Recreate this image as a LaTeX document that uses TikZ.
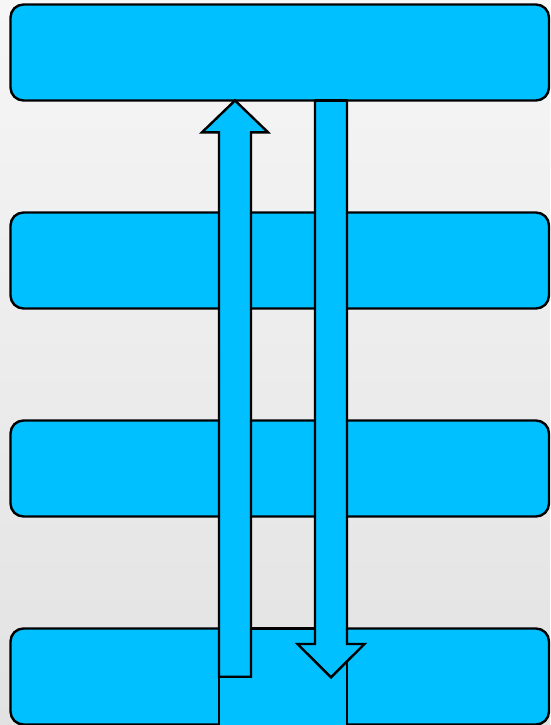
\documentclass[tikz,border=0pt]{standalone}
\usetikzlibrary{shadings}
\definecolor{bgtop}{RGB}{246,246,246}
\definecolor{bgbot}{RGB}{226,226,226}
\definecolor{skyfill}{RGB}{0,192,255}
\tikzset{
  bar/.style={fill=skyfill,draw=black,line width=2.4pt,rounded corners=13pt},
  arrowbody/.style={fill=skyfill,draw=black,line width=2.4pt,line join=miter}
}
\begin{document}
\begin{tikzpicture}[x=1pt,y=-1pt]
\useasboundingbox (0,0) rectangle (550,725);
\clip (0,0) rectangle (550,725);
\shade[top color=bgtop,bottom color=bgbot] (0,0) rectangle (550,725);
% bars
\foreach \i/\t in {1/4.5,2/212.5,3/420.5,4/628.5}{
  \path[bar] (10.5,\t) rectangle (549,\t+96);
}
% block under the arrows in the bottom bar
\path[arrowbody] (219,628.5) rectangle (347,760);
% up arrow
\coordinate (uptip) at (235,100.5);
\path[arrowbody] (219,676.7) -- (219,132.3) -- (202,132.3) -- (uptip) -- (268,132.3) -- (251,132.3) -- (251,676.7) -- cycle;
% down arrow
\coordinate (downtip) at (331,677.3);
\path[arrowbody] (315,100.5) -- (315,644) -- (297.5,644) -- (downtip) -- (364.5,644) -- (347,644) -- (347,100.5) -- cycle;
% re-draw top bar bottom edge over arrow tops
\draw[line width=2.4pt] (315,100.5) -- (347,100.5);
\end{tikzpicture}
\end{document}
